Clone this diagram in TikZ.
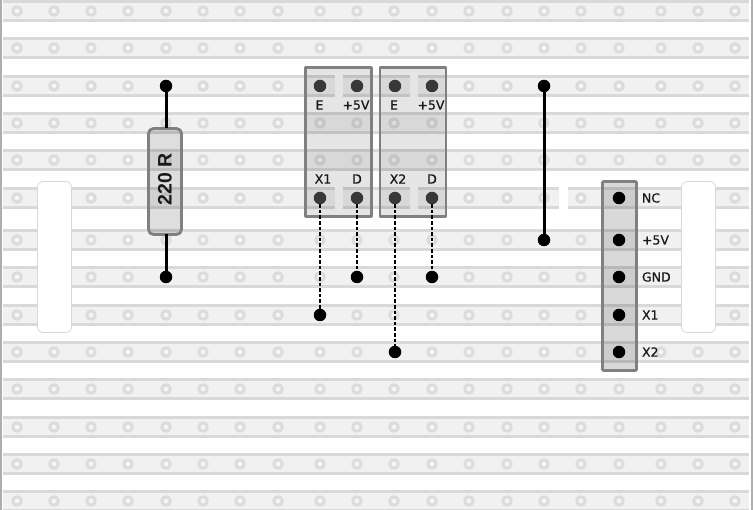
\documentclass[tikz,border=0pt]{standalone}
\usepackage{fontspec}
\setmainfont{DejaVu Sans}
\newfontfamily\wordfont[FakeBold=0.7]{DejaVu Sans}
\newfontfamily\valuefont{Liberation Sans}
\begin{document}
\begin{tikzpicture}[x=1pt, y=-1pt, line join=round,
      every node/.append style={inner sep=0pt, outer sep=0pt}]
    \tikzstyle{strip} = [fill=stripfill]
    \tikzstyle{stripedge} = [draw=edgegray, line width=2.6pt]
    \tikzstyle{hole} = [circle, draw=ringgray, line width=3.2pt, fill=white!97!black, minimum size=8.5pt]
    \tikzstyle{mount} = [draw=edgegray, line width=0.8pt, fill=white, rounded corners=5pt, minimum width=34pt, minimum height=151pt]
    \tikzstyle{module} = [draw=framegray, line width=2.8pt, fill=black, fill opacity=0.1, draw opacity=1, minimum width=66pt, minimum height=149pt]
    \tikzstyle{header} = [module, fill opacity=0.15, minimum width=34pt, minimum height=189pt, rounded corners=1pt]
    \tikzstyle{resistor} = [module, fill opacity=0.13, minimum width=33pt, minimum height=106pt, rounded corners=5pt]
    \tikzstyle{pin} = [circle, fill=black, minimum size=12.5pt]
    \tikzstyle{modpin} = [circle, fill=black!78, minimum size=12.5pt]
    \tikzstyle{wire} = [line width=3pt]
    \tikzstyle{lead} = [line width=1.7pt, dash pattern=on 3.6pt off 2pt]
    \tikzstyle{word} = [font=\wordfont\fontsize{12.5}{13}\selectfont, text=black!90]
    \definecolor{stripfill}{HTML}{F1F1F1}
    \definecolor{edgegray}{HTML}{D9D9D9}
    \definecolor{ringgray}{HTML}{DCDCDC}
    \definecolor{framegray}{HTML}{808080}
    \useasboundingbox (0,0) rectangle (753,510);
    % strips
    \foreach \row in {11,48,86,123,160,198,240,277,315,352,389,427,464,501} {
      \fill[strip] (3,\row-9.5) rectangle (749,\row+9.5);
      \draw[stripedge] (3,\row-9.5) -- (749,\row-9.5);
      \draw[stripedge] (3,\row+9.5) -- (749,\row+9.5);
    }
    \draw[edgegray!80!black, line width=2pt] (1,0) -- (1,510);
    \draw[edgegray!80!black, line width=2pt] (751.5,0) -- (751.5,510);
    % track breaks
    \foreach \row in {86,198} {
      \fill[white] (335,\row-11) rectangle (343,\row+11);
      \fill[white] (410,\row-11) rectangle (418,\row+11);
    }
    \fill[white] (559,187) rectangle (568,209);
    % holes
    \foreach \row in {11,48,86,123,160,198,240,277,315,352,389,427,464,501} {
      \foreach \col in {17,54,91,128,166,203,240,278,320,357,394,432,469,507,544,581,619,735} {
        \node[hole] (h\col-\row) at (\col,\row) {};
      }
    }
    \foreach \row in {11,48,86,123,160,352,389,427,464,501} {
      \node[hole] (h661-\row) at (661,\row) {};
      \node[hole] (h698-\row) at (698,\row) {};
    }
    % board mounts
    \node[mount] (mountL) at (54.5,257) {};
    \node[mount] (mountR) at (698.5,257) {};
    % resistor
    \node[pin] (resA) at (166,86) {};
    \node[pin] (resB) at (166,277) {};
    \node[resistor] (res) at (165,181.5) {};
    \node[rotate=90, font=\valuefont\bfseries\fontsize{19.5}{20}\selectfont, text=black!90] (resval) at (165,179) {220 R};
    \draw[wire] (resA) -- (resA |- res.north);
    \draw[wire] (resB |- res.south) -- (resB);
    % sensor boards
    \node[module] (modA) at (338.5,142) {};
    \node[module] (modB) at (413,142) {};
    \node[modpin] (e1) at (320,86) {};
    \node[modpin] (v1) at (357,86) {};
    \node[modpin] (x1) at (320,198) {};
    \node[modpin] (d1) at (357,198) {};
    \node[modpin] (e2) at (395,86) {};
    \node[modpin] (v2) at (432,86) {};
    \node[modpin] (x2) at (395,198) {};
    \node[modpin] (d2) at (432,198) {};
    \node[word] (le1) at (319.5,105) {E};
    \node[word] (lv1) at (356,105) {+5V};
    \node[word] (lx1) at (323,179) {X1};
    \node[word] (ld1) at (357,179) {D};
    \node[word] (le2) at (394,105) {E};
    \node[word] (lv2) at (431,105) {+5V};
    \node[word] (lx2) at (398,179) {X2};
    \node[word] (ld2) at (432,179) {D};
    % dashed leads
    \node[pin] (t1) at (320,315) {};
    \node[pin] (t2) at (357,277) {};
    \node[pin] (t3) at (395,352) {};
    \node[pin] (t4) at (432,277) {};
    \draw[lead] (x1) -- (t1);
    \draw[lead] (d1) -- (t2);
    \draw[lead] (x2) -- (t3);
    \draw[lead] (d2) -- (t4);
    % link
    \node[pin] (linkA) at (544,86) {};
    \node[pin] (linkB) at (544,240) {};
    \draw[wire] (linkA) -- (linkB);
    % connector
    \node[header] (conn) at (619.5,276) {};
    \node[pin] (nc) at (619,198) {};
    \node[pin] (vcc) at (619,240) {};
    \node[pin] (gnd) at (619,277) {};
    \node[pin] (xa) at (619,315) {};
    \node[pin] (xb) at (619,352) {};
    \node[word, anchor=west] (lnc) at (642,198) {NC};
    \node[word, anchor=west] (lvcc) at (642,240) {+5V};
    \node[word, anchor=west] (lgnd) at (642,277) {GND};
    \node[word, anchor=west] (lxa) at (642,315) {X1};
    \node[word, anchor=west] (lxb) at (642,352) {X2};
\end{tikzpicture}
\end{document}
